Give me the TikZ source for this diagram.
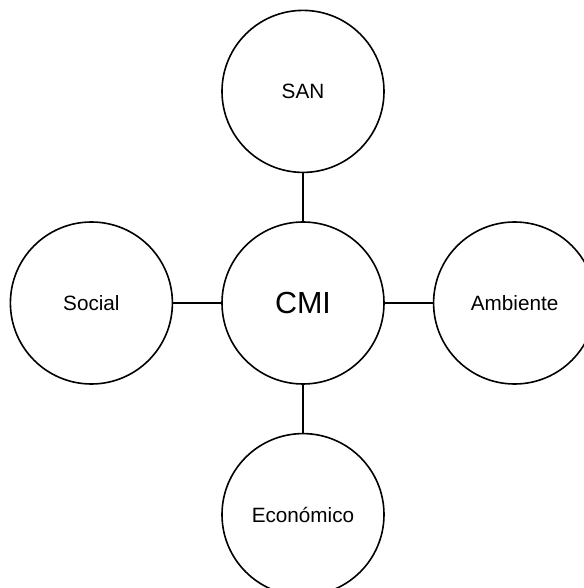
\documentclass[tikz,border=0pt]{standalone}
\usepackage{fontspec}
\setmainfont{Liberation Sans}
\usetikzlibrary{positioning}

\begin{document}
\begin{tikzpicture}[-,line width=1.6pt,node distance=48pt,
        bubble/.style={circle,draw,minimum size=162pt,inner sep=0pt,font=\fontsize{20.7}{24}\selectfont}]
                \useasboundingbox (-303pt,303pt) rectangle (280pt,-285pt);
                \node   [bubble,font=\fontsize{30.5}{36}\selectfont]    (cmi) {CMI};
                \node   [bubble]            [above=of cmi]    (san) {SAN};
                \node   [bubble]            [left=of cmi]     (social) {Social};
                \node   [bubble]            [right=of cmi]    (ambiente) {Ambiente};
                \node   [bubble]            [below=of cmi]    (economico) {Económico};

                \path   (cmi) edge (san)
                (cmi) edge (social)
                (cmi) edge (ambiente)
                (cmi) edge (economico);
            \end{tikzpicture}
\end{document}
